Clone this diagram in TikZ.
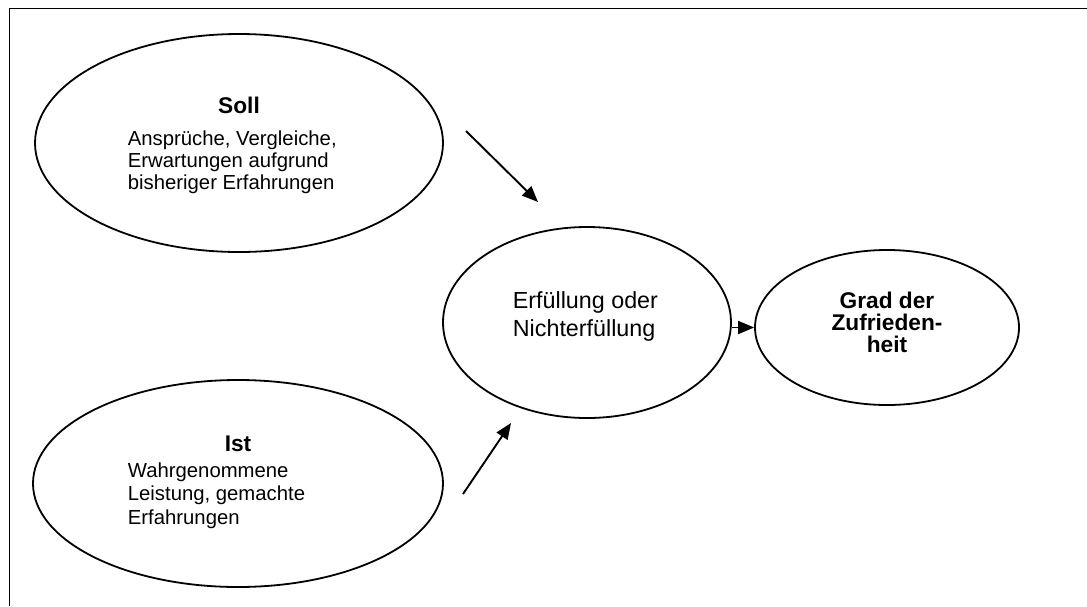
\documentclass[tikz,border=0pt]{standalone}
\usepackage{fontspec}
\setmainfont{Liberation Sans}
\usetikzlibrary{shapes.geometric,arrows.meta}
\begin{document}
\begin{tikzpicture}[x=1pt,y=-1pt,line width=1.8pt,
	oval/.style={draw,ellipse,inner sep=0pt},
	txt/.style={inner sep=0pt,anchor=base west,font=\fontsize{20.3}{22}\selectfont},
	kopf/.style={inner sep=0pt,anchor=base,font=\fontsize{22.7}{26}\selectfont\bfseries},
	pfeil/.style={-{Triangle[length=16pt,width=13pt]},line width=1.9pt}]
	\useasboundingbox (0,0) rectangle (1087,606);
	\draw[line width=1.7pt] (9.5,606) -- (9.5,8.5) -- (1087,8.5);
	\node[oval,minimum width=408pt,minimum height=218pt] (soll) at (239,143) {};
	\node[oval,minimum width=410pt,minimum height=207pt] (ist) at (238,483.5) {};
	\node[oval,minimum width=288pt,minimum height=191pt] (mid) at (587,322.5) {};
	\node[oval,minimum width=264pt,minimum height=155pt] (grad) at (887,327.5) {};
	% texte
	\node[kopf] (sollK) at (239,113) {Soll};
	\foreach \t [count=\i] in {{Ansprüche, Vergleiche,},Erwartungen aufgrund,bisheriger Erfahrungen}
	\node[txt] (soll\i) at (127,145+22.3*\i-22.3) {\t};
	\node[kopf] (istK) at (238,451) {Ist};
	\foreach \t [count=\i] in {Wahrgenommene,{Leistung, gemachte},Erfahrungen}
	\node[txt] (ist\i) at (127,477+23.5*\i-23.5) {\t};
	\foreach \t [count=\i] in {Erfüllung oder,Nichterfüllung}
	\node[txt,font=\fontsize{23.3}{27}\selectfont] (mid\i) at (512,308.3+28.4*\i-28.4) {\t};
	\foreach \t [count=\i] in {Grad der,Zufrieden-,heit}
	\node[kopf] (grad\i) at (887,308+22*\i-22) {\t};
	% pfeile
	\path (466,131) coordinate (s1) (538,202) coordinate (e1)
	(463,494) coordinate (s2) (511,423) coordinate (e2);
	\draw[pfeil] (s1) -- (e1);
	\draw[pfeil] (s2) -- (e2);
	\draw[pfeil] (mid.east |- grad.west) -- (grad.west);
\end{tikzpicture}
\end{document}
